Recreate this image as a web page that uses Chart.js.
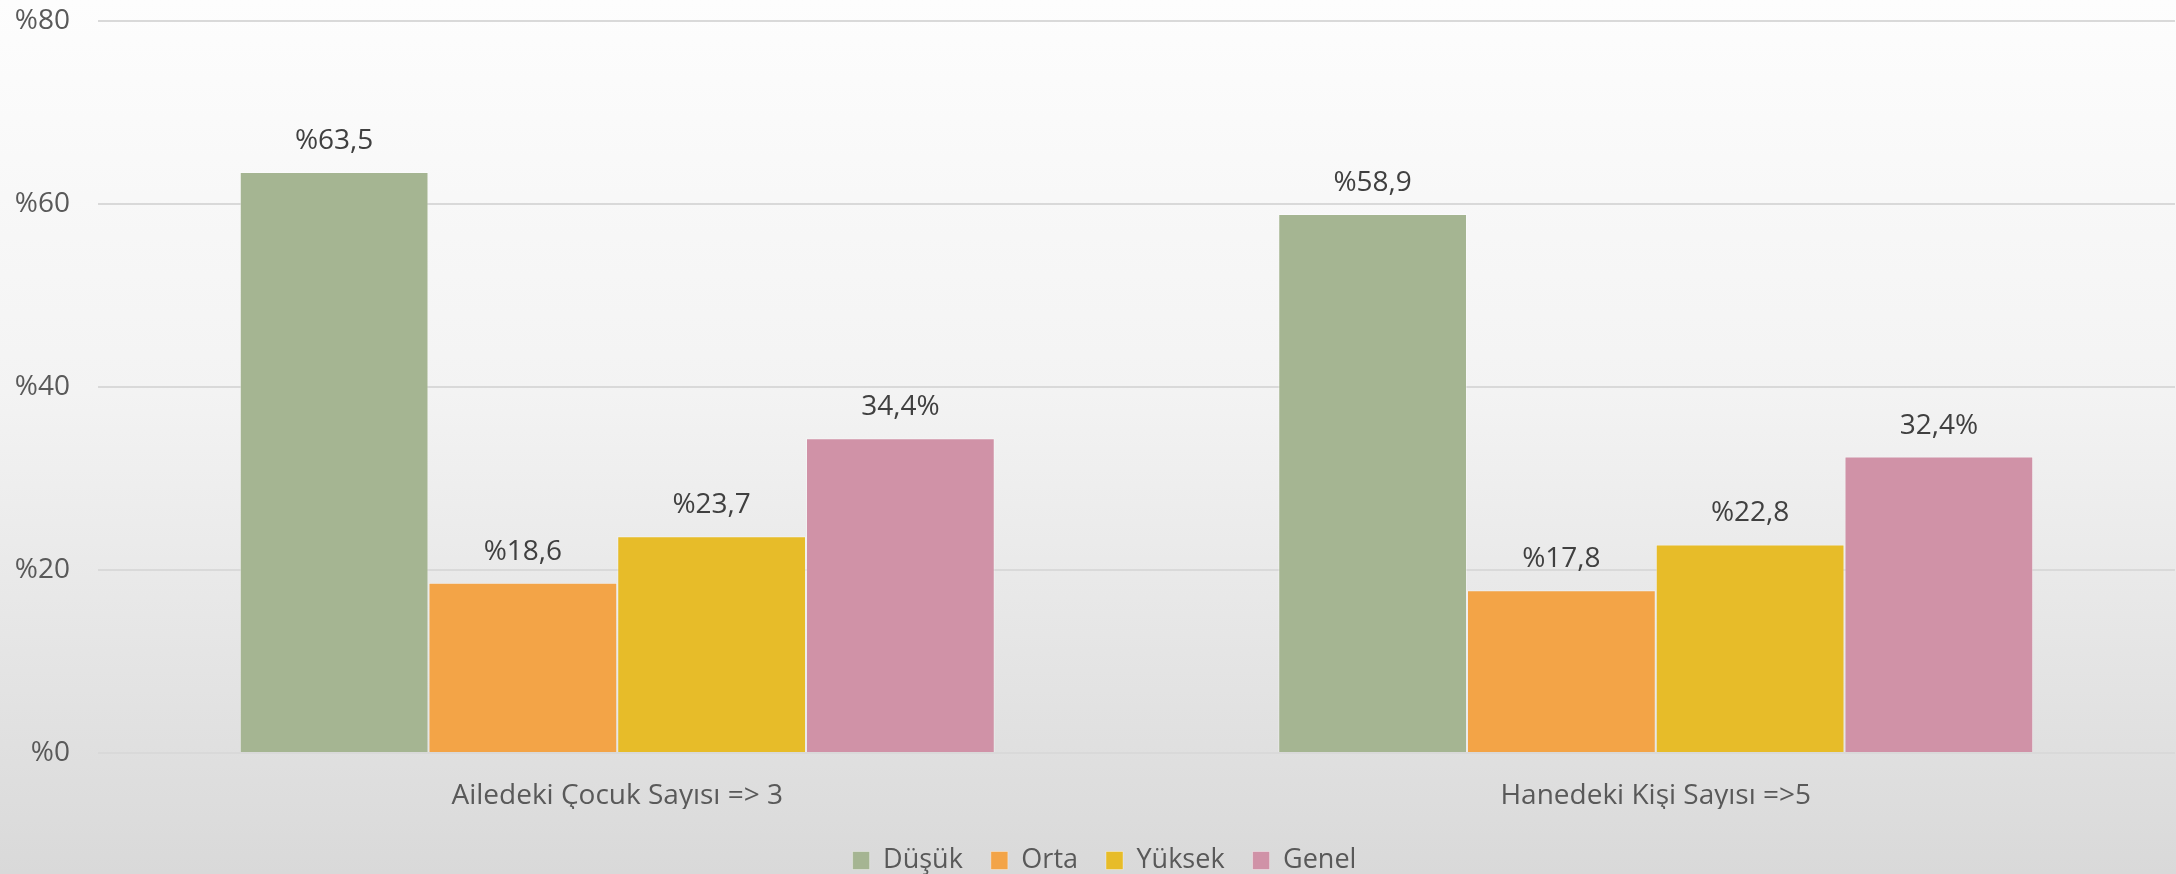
<!DOCTYPE html>
<html>
<head>
<meta charset="utf-8">
<script src="https://cdn.jsdelivr.net/npm/chart.js@4"></script>
<style>
  html, body { margin: 0; padding: 0; }
  #wrap { width: 2176px; height: 874px; background: linear-gradient(to bottom, #fdfdfd 0%, #f3f3f3 45%, #d9d9d9 100%); }
</style>
</head>
<body>
<div id="wrap"><canvas id="c" width="2176" height="874"></canvas></div>
<script>
const categories = ['Ailedeki Çocuk Sayısı => 3', 'Hanedeki Kişi Sayısı =>5'];
const seriesNames = ['Düşük', 'Orta', 'Yüksek', 'Genel'];
const dusuk = [63.5, 58.9];
const orta = [18.6, 17.8];
const yuksek = [23.7, 22.8];
const genel = [34.4, 32.4];
const yTickLabels = ['%0', '%20', '%40', '%60', '%80'];
const colors = ['#A5B592', '#F3A447', '#E7BC29', '#D092A7'];
const percentAfter = [false, false, false, true];

const PLOT_TOP = 21, PLOT_LEFT = 98, PLOT_BOTTOM = 753;

function fmt(v, after) {
  const s = v.toFixed(1).replace('.', ',');
  return after ? s + '%' : '%' + s;
}

const labelPlugin = {
  id: 'barLabels',
  afterLayout(chart) {
    const lg = chart.legend;
    if (lg) {
      lg.left += 17; lg.right += 17;
      lg.top += 10; lg.bottom += 10;
    }
  },
  afterDatasetsDraw(chart) {
    const ctx = chart.ctx;
    ctx.save();
    ctx.font = '28px "Open Sans"';
    ctx.fillStyle = '#404040';
    ctx.textAlign = 'center';
    ctx.textBaseline = 'middle';
    chart.data.datasets.forEach((ds, di) => {
      const meta = chart.getDatasetMeta(di);
      meta.data.forEach((bar, i) => {
        ctx.fillText(fmt(ds.data[i], percentAfter[di]), bar.x, bar.y - 31);
      });
    });
    ctx.restore();
  }
};

const seriesData = [dusuk, orta, yuksek, genel];
const datasets = seriesNames.map((n, i) => ({
  label: n,
  data: seriesData[i],
  backgroundColor: colors[i],
  borderColor: 'rgba(255,255,255,0.35)',
  borderWidth: 1,
  categoryPercentage: 0.727,
  barPercentage: 1.0
}));

new Chart(document.getElementById('c'), {
  type: 'bar',
  data: { labels: categories, datasets },
  plugins: [labelPlugin],
  options: {
    responsive: false,
    animation: false,
    devicePixelRatio: 1,
    layout: { padding: { top: PLOT_TOP, left: 0, right: 1, bottom: 0 } },
    plugins: {
      tooltip: { enabled: false },
      legend: {
        position: 'bottom',
        labels: {
          boxWidth: 17,
          boxHeight: 18,
          padding: 28,
          color: '#595959',
          font: { family: '"Open Sans"', size: 27 }
        }
      }
    },
    scales: {
      x: {
        grid: { display: false, drawTicks: false },
        border: { display: false },
        ticks: { color: '#595959', padding: 26, font: { family: '"Open Sans"', size: 28 } },
        afterFit(scale) {
          const lh = scale.chart.legend ? scale.chart.legend.height : 60;
          scale.height = 874 - lh - PLOT_BOTTOM;
          scale.paddingLeft = 0; scale.paddingRight = 0;
        }
      },
      y: {
        min: 0, max: 80,
        grid: { color: '#d9d9d9', lineWidth: 2, drawTicks: false },
        border: { display: false },
        ticks: {
          stepSize: 20,
          padding: 28,
          color: '#595959',
          font: { family: '"Open Sans"', size: 28 },
          callback: (v) => yTickLabels[v / 20]
        },
        afterFit(scale) {
          scale.width = PLOT_LEFT;
          scale.paddingTop = 0; scale.paddingBottom = 0;
        }
      }
    }
  }
});
</script>
</body>
</html>
